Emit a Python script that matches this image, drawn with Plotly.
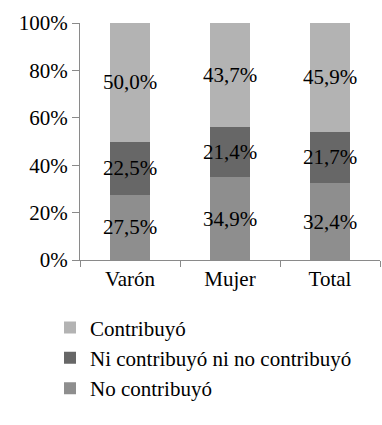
import plotly.graph_objects as go

categories = ["Varón", "Mujer", "Total"]
no_contribuyo = [27.5, 34.9, 32.4]
ni_ni = [22.5, 21.4, 21.7]
contribuyo = [50.0, 43.7, 45.9]
series_names = ["No contribuyó", "Ni contribuyó ni no contribuyó", "Contribuyó"]
colors = ["#8e8e8e", "#676767", "#b3b3b3"]
y_ticks = [0, 20, 40, 60, 80, 100]

def fmt(v):
    return f"{v:.1f}".replace(".", ",") + "%"

fig = go.Figure()
for name, vals, col in zip(series_names, [no_contribuyo, ni_ni, contribuyo], colors):
    fig.add_trace(go.Bar(
        x=categories, y=vals, name=name, marker=dict(color=col, line=dict(width=0)),
        text=[fmt(v) for v in vals], textposition="inside", insidetextanchor="middle",
        textangle=0, constraintext="none",
        textfont=dict(color="black", size=21, family="Liberation Serif"),
        hoverinfo="skip",
    ))

fig.update_layout(
    barmode="stack", bargap=0.6,
    width=382, height=425,
    margin=dict(l=80, r=2, t=23, b=165, autoexpand=False),
    paper_bgcolor="white", plot_bgcolor="white",
    font=dict(family="Liberation Serif", size=21, color="black"),
    uniformtext=dict(minsize=21, mode="show"),
    showlegend=True,
    legend=dict(orientation="v", x=-0.1, xanchor="left", y=-0.2, yanchor="top",
                traceorder="reversed", font=dict(size=21), itemwidth=30,
                bgcolor="rgba(0,0,0,0)"),
)
fig.update_yaxes(range=[0, 100], tickvals=y_ticks, ticktext=[f"{v}%" for v in y_ticks],
                 showgrid=False, showline=True, linecolor="#8a8a8a", linewidth=1,
                 ticks="outside", ticklen=7, tickcolor="#8a8a8a", zeroline=False)
fig.update_xaxes(showgrid=False, showline=True, linecolor="#8a8a8a", linewidth=1,
                 ticks="outside", ticklen=6, tickcolor="#8a8a8a", tickson="boundaries")
fig.write_html("out.html", config={"displayModeBar": False},
               post_script="document.body.style.margin='0';")
